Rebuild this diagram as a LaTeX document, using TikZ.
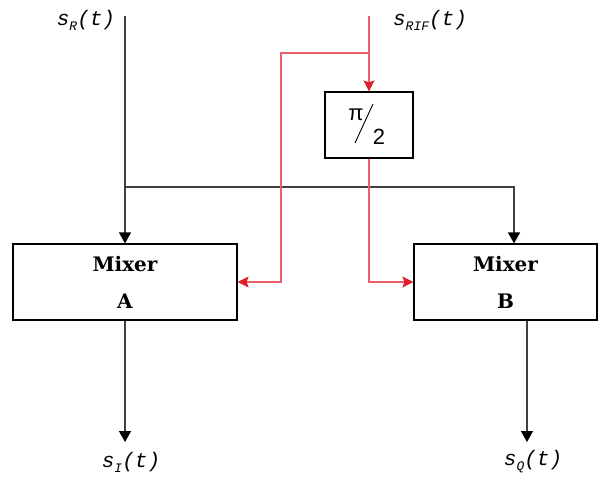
\documentclass[tikz,border=0pt]{standalone}
\usepackage{fontspec}
\newfontfamily\sigfont{Liberation Mono}
\newfontfamily\phfont{Liberation Sans}
\newfontfamily\boxfont{DejaVu Serif}
\usetikzlibrary{arrows.meta}
\definecolor{sigred}{RGB}{222,30,40}
\newcommand\sig[1]{{\sigfont\itshape s\raisebox{-0.45ex}{\fontsize{13}{13}\selectfont #1}(t)}}
\tikzset{
  mixbox/.style={draw,line width=1.2pt,minimum height=76pt,align=center,
    font={\boxfont\fontsize{20}{37}\selectfont\bfseries}},
  blk/.style={line width=1.4pt,black!75,-{Triangle[length=11pt,width=12pt,fill=black,color=black]}},
  rd/.style={line width=1.1pt,sigred!70,-{Stealth[length=11pt,width=11pt,inset=2pt,fill=sigred,color=sigred]}},
  lbl/.style={font=\fontsize{21}{21}\selectfont},
  phtxt/.style={inner sep=0pt,font={\phfont\fontsize{22}{22}\selectfont}}
}

\begin{document}
\begin{tikzpicture}[x=1pt,y=-1pt]
  \useasboundingbox (0,0) rectangle (604,476);
  % blocks
  \node[mixbox,minimum width=224pt] (mixA) at (125,282) {Mixer\\A};
  \node[mixbox,minimum width=183pt] (mixB) at (505.5,282) {Mixer\\B};
  \node[draw,line width=1.2pt,minimum width=88pt,minimum height=66pt] (phase) at (369,125) {};
  \node[phtxt] (pi) at ([shift={(-13,-10)}]phase.center) {π};
  \node[phtxt] (two) at ([shift={(10,12)}]phase.center) {2};
  \draw[line width=0.9pt] ([shift={(-14,18)}]phase.center) -- ([shift={(4,-21)}]phase.center);
  % signals
  \coordinate (sR) at (125,16);
  \coordinate (sRIF) at (369,16);
  \coordinate (split) at (125,187);
  \coordinate (tap) at (369,53);
  \coordinate (bend) at (281,53);
  \coordinate (inB) at ([xshift=8.5pt]mixB.north);
  \coordinate (outB) at ([xshift=21.5pt]mixB.south);
  \coordinate (sI) at (125,442);
  \coordinate (sQ) at (527,442);
  \node[lbl] (lR) at (86,20) {\sig{R}};
  \node[lbl] (lRIF) at (430,20) {\sig{RIF}};
  \node[lbl] (lI) at (131,462) {\sig{I}};
  \node[lbl] (lQ) at (533,462) {\sig{Q}};
  % connectors
  \draw[blk] (sR) -- (mixA.north);
  \draw[blk] (split) -| (inB);
  \draw[rd] (sRIF) -- (phase.north);
  \draw[rd] (tap) -- (bend) |- (mixA.east);
  \draw[rd] (phase.south) |- (mixB.west);
  \draw[blk] (mixA.south) -- (sI);
  \draw[blk] (outB) -- (sQ);
\end{tikzpicture}
\end{document}
